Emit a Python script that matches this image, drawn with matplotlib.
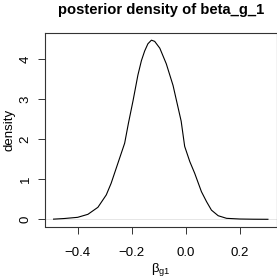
import matplotlib

matplotlib.use("Agg")
import matplotlib.pyplot as plt

# posterior density curve
beta_x = [-0.489, -0.45, -0.4, -0.362, -0.325, -0.294, -0.276, -0.251, -0.226,
          -0.212, -0.195, -0.177, -0.164, -0.152, -0.14, -0.127, -0.115,
          -0.096, -0.072, -0.047, -0.017, -0.004, 0.015, 0.033, 0.058, 0.077,
          0.095, 0.12, 0.151, 0.2, 0.25, 0.304]
density = [0.005, 0.02, 0.05, 0.125, 0.3, 0.61, 0.9, 1.4, 1.9,
           2.4, 2.96, 3.6, 3.96, 4.2, 4.38, 4.47, 4.44,
           4.27, 3.88, 3.34, 2.45, 1.82, 1.44, 1.15, 0.69, 0.44,
           0.23, 0.09, 0.025, 0.008, 0.003, 0.001]
x_ticks = [-0.4, -0.2, 0.0, 0.2]
y_ticks = [0, 1, 2, 3, 4]

plt.rcParams["font.family"] = ["Liberation Sans", "DejaVu Sans"]
plt.rcParams["mathtext.fontset"] = "custom"
plt.rcParams["mathtext.rm"] = "Liberation Sans"

fig = plt.figure(figsize=(2.77, 2.77), dpi=100)
ax = fig.add_axes([45 / 277, 1 - 226.5 / 277, 231.5 / 277, 193.5 / 277])

# R-style extended range (4% each side)
xr = max(beta_x) - min(beta_x)
ax.set_xlim(min(beta_x) - 0.04 * xr, max(beta_x) + 0.04 * xr)
yr = max(density)
ax.set_ylim(-0.04 * yr, yr * 1.04)

ax.axhline(0, color="#dcdcdc", lw=0.5, zorder=1)
ax.plot(beta_x, density, color="black", lw=0.8, zorder=2)

ax.tick_params(direction="out", length=5.3, width=0.7, labelsize=9.5,
               color="#333333")
ax.tick_params(axis="x", pad=9.7)
ax.tick_params(axis="y", pad=6.5)
ax.set_xticks(x_ticks)
ax.set_xticklabels([f"{v:.1f}".replace("-", "\u2212") for v in x_ticks])
ax.set_yticks(y_ticks)
ax.set_yticklabels([str(v) for v in y_ticks], rotation=90,
                   rotation_mode="anchor", ha="center", va="baseline")
for s in ax.spines.values():
    s.set_linewidth(0.8)
    s.set_color("#333333")

ax.set_title("posterior density of beta_g_1", fontsize=10.6,
             fontweight="bold", pad=14)
ax.set_xlabel("β$_{\\mathrm{g1}}$", fontsize=9.5, va="center")
ax.xaxis.set_label_coords(0.5, (226.5 - 269.5) / 193.5)
ax.set_ylabel("density", fontsize=9.5, va="center")
ax.yaxis.set_label_coords((9.5 - 45) / 231.5, 0.5)

fig.savefig("out.png", dpi=100)
